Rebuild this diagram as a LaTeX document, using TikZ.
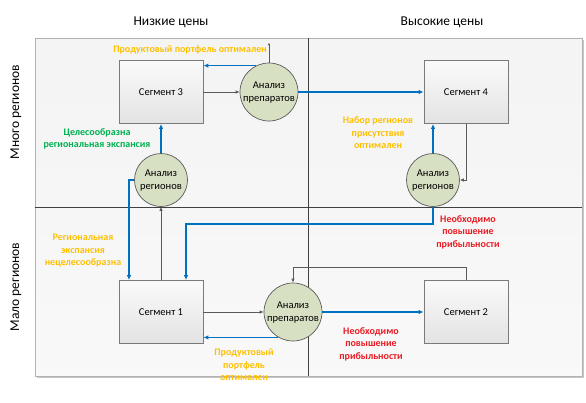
\documentclass[tikz,border=0pt]{standalone}
\usepackage{fontspec}
\setmainfont{Carlito}
\usepackage{xcolor}
\usetikzlibrary{arrows.meta,positioning,calc,shapes.geometric}
\definecolor{mblue}{RGB}{0,112,192}
\definecolor{mgold}{RGB}{255,192,0}
\definecolor{mgreen}{RGB}{0,176,80}
\definecolor{mred}{RGB}{235,28,36}
\definecolor{mline}{RGB}{89,89,89}
\definecolor{mdisc}{RGB}{216,224,196}
\tikzset{
  px/.style={x=1pt, y=-1pt},
  m seg/.style={draw=mline!80, top color=gray!4, bottom color=gray!22, minimum width=84pt, minimum height=63pt, font=\fontsize{10.5}{12}\selectfont, line width=0.8pt},
  m ana/.style={circle, draw=mline, fill=mdisc, minimum size=53pt, inner sep=0pt, align=center, font=\fontsize{10.5}{13}\selectfont, line width=0.7pt},
  m title/.style={font=\fontsize{13.5}{15}\selectfont, align=center},
  m side/.style={m title, rotate=90},
  m lbl/.style={font=\fontsize{10}{12.5}\selectfont\bfseries, align=center},
  m blue/.style={-{Latex[length=5pt,width=4.5pt]}, mblue, line width=1.6pt},
  m gray/.style={-{Latex[length=4pt,width=3.5pt]}, mline, line width=0.8pt},
}
\begin{document}
\begin{tikzpicture}[px]
\useasboundingbox (0,0) rectangle (586,402);
% frame
\fill[gray!45] (37,40) rectangle (584,378);
\draw[gray!60, top color=gray!9, bottom color=gray!5] (35,38) rectangle (582,376);
\draw[black!75, line width=0.6pt] (308,38) -- (308,376);
\draw[black!75, line width=0.6pt] (35,207) -- (582,207);
\node[m title] (lo) at (171,22) {Низкие цены};
\node[m title] (hi) at (442,22) {Высокие цены};
\node[m side] (many) at (16,112) {Много регионов};
\node[m side] (few) at (16,287) {Мало регионов};
% segments and analysis circles
\node[m seg] (s3) at (161,92) {Сегмент 3};
\node[m seg] (s4) at (466,92) {Сегмент 4};
\node[m seg] (s1) at (161,312) {Сегмент 1};
\node[m seg] (s2) at (466,312) {Сегмент 2};
\node[m ana, minimum size=58pt] (ap1) at (269,92) {Анализ\\препаратов};
\node[m ana, minimum size=58pt] (ap2) at (293,312) {Анализ\\препаратов};
\node[m ana] (ar1) at (161,180) {Анализ\\регионов};
\node[m ana] (ar2) at (433,180) {Анализ\\регионов};
\coordinate (up) at (269,43);
% connectors
\draw[m gray] (s3) -- (ap1);
\draw[m blue] (ap1.116) -- (ap1.116 -| s3.east);
\draw[m gray, -{Latex[length=2pt,width=2.5pt]}] (ap1.north) -- (up);
\draw[m blue] (ap1) -- (s4);
\draw[m blue] (ar1) -- (s3);
\draw[m blue] (ar1.west) -| ([xshift=-32pt]s1.north);
\draw[m gray] (s1) -- (ar1);
\draw[m blue] (ar2.north) -- (ar2.north |- s4.south);
\draw[m gray] (s4.south) |- (ar2.east);
\draw[m blue] (ar2.south) -- ++(0,17) -| ([xshift=25pt]s1.north);
\draw[m gray] (s1) -- (ap2);
\draw[m blue] (ap2.240) -- (ap2.240 -| s1.east);
\draw[m blue] (ap2) -- (s2);
\draw[m gray] (s2.north) -- ++(0,-13) -| (ap2.north);
% labels
\node[m lbl, text=mgold] (t1) at (190,50) {Продуктовый портфель оптимален};
\node[m lbl, text=mgreen] (t2) at (97,139) {Целесообразна\\региональная экспансия};
\node[m lbl, text=mgold] (t3) at (378,133) {Набор регионов\\присутствия\\оптимален};
\node[m lbl, text=mgold] (t4) at (83,251) {Региональная\\экспансия\\нецелесообразна};
\node[m lbl, text=mred] (t5) at (468,232) {Необходимо\\повышение\\прибыльности};
\node[m lbl, text=mred] (t6) at (371,344) {Необходимо\\повышение\\прибыльности};
\node[m lbl, text=mgold] (t7) at (244,365) {Продуктовый\\портфель\\оптимален};
\end{tikzpicture}
\end{document}
